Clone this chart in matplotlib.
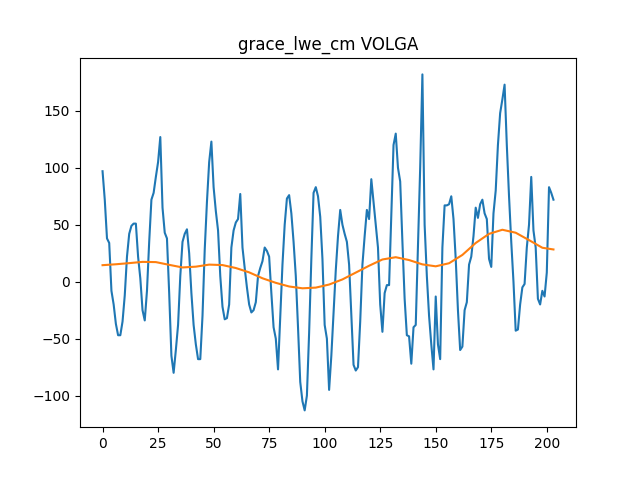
import numpy as np
import matplotlib
matplotlib.use("Agg")
import matplotlib.pyplot as plt

title = "grace_lwe_cm VOLGA"

# monthly anomaly values (index 0..203)
lwe = [
    97, 72, 38, 34, -8, -20, -37, -47, -47, -35,
    -12, 22, 42, 49, 51, 51, 22, 3, -25, -34,
    -8, 35, 72, 78, 92, 105, 127, 65, 43, 38,
    -10, -65, -80, -60, -38, 5, 35, 42, 46, 25,
    -10, -38, -55, -68, -68, -30, 28, 70, 105, 123,
    83, 62, 45, 5, -22, -33, -32, -20, 30, 45,
    52, 55, 77, 30, 12, -5, -20, -27, -25, -18,
    5, 12, 18, 30, 27, 22, -10, -40, -50, -77,
    -30, 15, 50, 73, 76, 60, 35, 5, -40, -88,
    -105, -113, -100, -45, 20, 78, 83, 75, 57, 20,
    -38, -50, -95, -65, -28, 10, 40, 63, 50, 42,
    35, 15, -30, -73, -78, -75, -35, 15, 40, 63,
    55, 90, 70, 50, 30, -20, -44, -10, -3, -3,
    60, 120, 130, 100, 88, 35, -15, -47, -48, -72,
    -40, -38, 30, 100, 182, 50, 5, -30, -55, -77,
    -13, -55, -68, 30, 67, 67, 68, 75, 55, 20,
    -25, -60, -57, -25, -18, 15, 22, 40, 65, 56,
    68, 72, 60, 55, 20, 13, 60, 80, 120, 148,
    160, 173, 120, 75, 35, 0, -43, -42, -20, -5,
    -2, 30, 50, 92, 45, 30, -15, -20, -8, -13,
    8, 83, 78, 72,
]

# smooth trend, read at every 6th index
trend_x = [0, 6, 12, 18, 24, 30, 36, 42, 48, 54, 60, 66, 72, 78, 84, 90,
           96, 102, 108, 114, 120, 126, 132, 138, 144, 150, 156, 162, 168,
           174, 180, 186, 192, 198, 203]
trend_y = [14.5, 15.3, 16.3, 17.4, 17.2, 14.8, 12.5, 13.2, 15.0, 14.6, 12.0,
           8.2, 3.0, -1.0, -4.2, -5.8, -5.2, -2.5, 2.0, 8.0, 14.0, 19.5, 21.5,
           19.0, 15.2, 13.5, 16.2, 23.5, 34.0, 42.0, 45.6, 43.0, 36.5, 29.8,
           28.3]

fig, ax = plt.subplots(figsize=(6.4, 4.8), dpi=100)
ax.plot(np.arange(len(lwe)), lwe)
ax.plot(trend_x, trend_y)
ax.set_title(title)
fig.savefig("out.png")
